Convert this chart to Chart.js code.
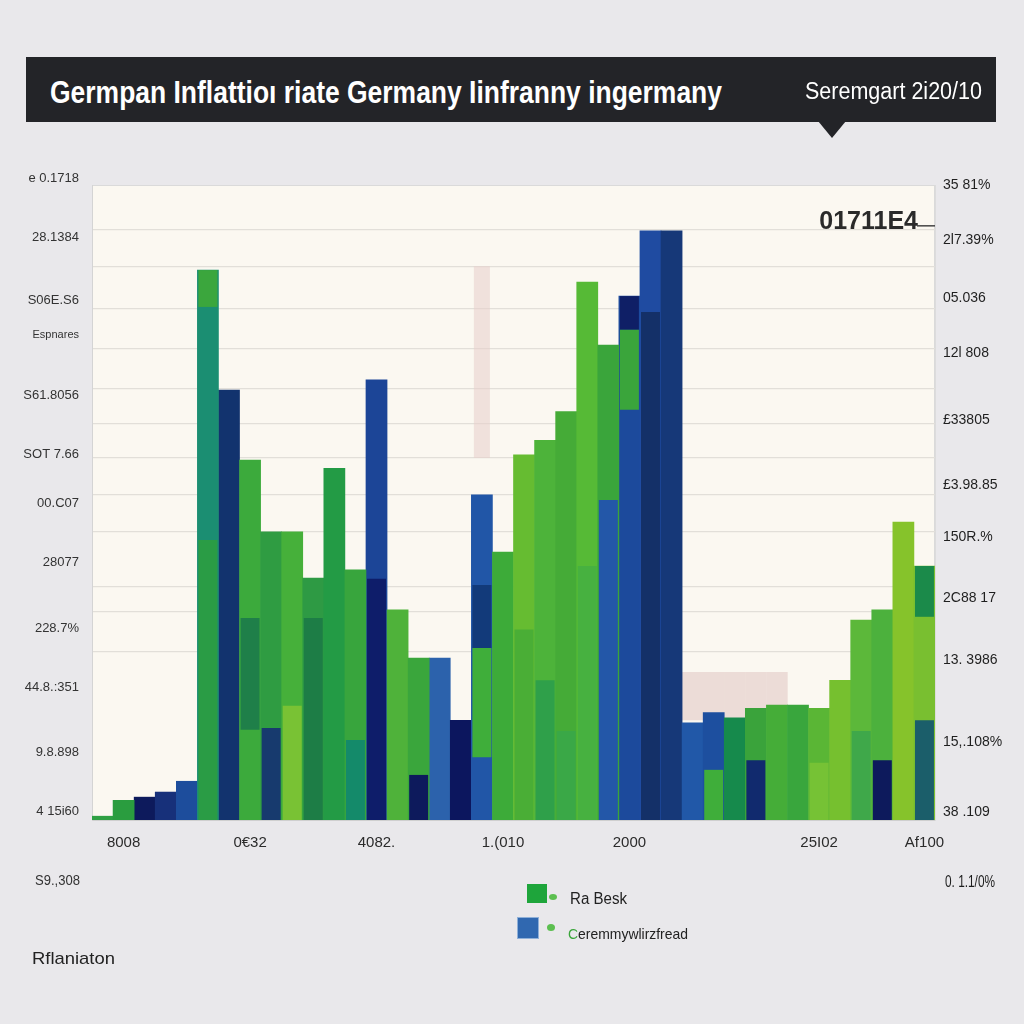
<!DOCTYPE html>
<html>
<head>
<meta charset="utf-8">
<script src="https://cdn.jsdelivr.net/npm/chart.js@4.4.1/dist/chart.umd.min.js"></script>
<style>
html,body{margin:0;padding:0;background:#e9e8eb;width:1024px;height:1024px;overflow:hidden;font-family:"Liberation Sans",Arial,sans-serif;}
#wrap{position:relative;width:1024px;height:1024px;}
canvas{position:absolute;left:0;top:0;}
.t{position:absolute;white-space:nowrap;transform-origin:0 50%;line-height:1;}
#bar{position:absolute;left:26px;top:57px;width:970px;height:65px;background:#232428;}
#tri{position:absolute;left:818px;top:121px;width:0;height:0;border-left:14px solid transparent;border-right:14px solid transparent;border-top:17px solid #232428;}
.sq{position:absolute;}
.dot{position:absolute;border-radius:50%;background:#5cbf50;}
</style>
</head>
<body>
<div id="wrap">
<canvas id="c" width="1024" height="1024"></canvas>
<div id="bar"></div><div id="tri"></div>
<div class="t fit" data-w="672" style="left:50px;top:77px;font-size:31px;font-weight:bold;color:#fff">Germpan Inflattioı riate Germany Iinfranny ingermany</div>
<div class="t fit" data-w="177" style="left:805px;top:80px;font-size:23px;color:#fff">Seremgart 2i20/10</div>

<div class="sq" style="left:527px;top:884px;width:20px;height:19px;background:#1ea53b"></div>
<div class="dot" style="left:549px;top:894px;width:8px;height:6px"></div>
<div class="t fit" data-w="57" style="left:570px;top:891px;font-size:16px;color:#222">Ra Besk</div>

<div class="sq" style="left:518px;top:918px;width:20px;height:20px;background:#3068b0;box-shadow:0 0 0 1px #8fb0d8"></div>
<div class="dot" style="left:547px;top:924px;width:8px;height:7px"></div>
<div class="t fit" data-w="120" style="left:568px;top:926px;font-size:15px;color:#222"><span style="color:#3aa53a">C</span>eremmywlirzfread</div>

<div class="t fit" data-w="83" style="left:32px;top:950px;font-size:17px;color:#222">Rflaniaton</div>
<div class="t fit" data-w="45" style="left:35px;top:873px;font-size:14px;color:#333">S9.,308</div>
<div class="t fit" data-w="50" style="left:945px;top:873px;font-size:17px;color:#1d1d1d">0. 1.1/0%</div>
</div>

<script>
// ---- data ----
const categories = ['', '8008', '', '', '', '', '', '0€32', '', '', '', '', '', '4082.', '', '', '', '', '', '1.(010',
                    '', '', '', '', '', '2000', '', '', '', '', '', '', '', '', '25I02', '', '', '', '', 'Af100'];
const greenValues = [0.6, 3.1, null, null, null, 86.6, null, 56.7, 45.4, 45.4, 38.1, 55.4, 39.4, null, 33.1, 25.5, null, null, null, 42.2,
                     57.5, 59.8, 64.3, 84.7, 74.8, null, null, null, null, null, 16.1, 17.6, 18.1, 18.1, 17.6, 22.0, 31.5, 33.1, 46.9, 40.0];
const blueValues  = [null, null, 3.6, 4.4, 6.1, null, 67.7, null, null, null, null, null, null, 69.3, null, null, 25.5, 15.7, 51.2, null,
                     null, null, null, null, null, 82.5, 92.8, 92.8, 15.3, 16.9, null, null, null, null, null, null, null, null, null, null];
// inner colour segments visible inside the bars [from, to]
const segmentValues = [null, null, null, null, null, [0, 44.1], null, [14.2, 31.8], [0, 14.5], [0, 18.0], [0, 31.8], null, [0, 12.6], [0, 38.0], null, [0, 7.1], null, null, [9.9, 27.1], null,
                       [0, 30.0], [0, 22.0], [0, 14.0], [0, 40.0], [0, 50.4], [64.6, 77.2], [0, 80.0], null, null, [0, 7.9], null, [0, 9.4], null, null, [0, 9.0], null, [0, 14.0], [0, 9.4], null, [0, 15.7]];
const topSegmentValues = [null, null, null, null, null, [80.8, 86.6], null, null, null, null, null, null, null, null, null, null, null, null, [27.1, 37.0], null,
                          null, null, null, null, null, [77.2, 82.5], null, null, null, null, null, null, null, null, null, null, null, null, null, [32.0, 40.0]];
const highlightNarrow = [null, null, null, null, null, null, null, null, null, null, null, null, null, null, null, null, null, null, [57.0, 87.2], null,
                         null, null, null, null, null, null, null, null, null, null, null, null, null, null, null, null, null, null, null, null];
const highlightWide = [null, null, null, null, null, null, null, null, null, null, null, null, null, null, null, null, null, null, null, null,
                       null, null, null, null, null, null, null, null, [15.7, 23.3], [15.7, 23.3], [15.7, 23.3], [15.7, 23.3], [15.7, 23.3], null, null, null, null, null, null, null];
const leftTickValues = [101.1, 91.7, 81.9, 76.4, 66.9, 57.5, 49.9, 40.5, 30.2, 20.8, 10.6, 1.3];
const leftTickLabels = ['e 0.1718', '28.1384', 'S06E.S6', 'Espnares', 'S61.8056', 'SOT 7.66', '00.C07', '28077', '228.7%', '44.8.:351', '9.8.898', '4 15i60'];
const rightTickValues = [100, 91.3, 82.2, 73.5, 63.0, 52.8, 44.6, 35.0, 25.2, 12.3, 1.3];
const rightTickLabels = ['35 81%', '2l7.39%', '05.036', '12l 808', '£33805', '£3.98.85', '150R.%', '2C88 17', '13. 3986', '15,.108%', '38 .109'];
const gridValues = [92.9, 87.2, 80.6, 74.3, 68.0, 62.4, 57.0, 51.3, 45.4, 36.7, 32.8, 26.5];
const annotationValue = 94.2;
const annotationText = '01711E4';

// ---- styles ----
const greenColors = ['#2fa044', '#2a9d3f', null, null, null, '#1b8e72', null, '#3caa3c', '#2f9c42', '#46b03a', '#2e9a44', '#239b45', '#38a53d', null, '#4fb23a', '#3aa63c', null, null, null, '#3dab39',
                     '#66bc31', '#4db33a', '#45ab37', '#56ba36', '#3aa53b', null, null, null, null, null, '#168a4c', '#3aa33b', '#45ad38', '#39a63d', '#5ab635', '#76c02f', '#5cb83a', '#4cb13d', '#86c32b', '#79bf30'];
const blueColors = [null, null, '#0d1a5c', '#17307a', '#1d4d9c', null, '#12336e', null, null, null, null, null, null, '#1c4597', null, null, '#2c62ac', '#0c165e', '#2156a7', null,
                    null, null, null, null, null, '#1c4a9c', '#1f4ba1', '#163878', '#2158a8', '#1d4f9f', null, null, null, null, null, null, null, null, null, null];
const segmentColors = [null, null, null, null, null, '#2a9c45', null, '#1f7f49', '#173a6e', '#79c234', '#1d7d46', null, '#148a6a', '#0e1d6a', null, '#0d1a5c', null, null, '#3fae3a', null,
                       '#4aae36', '#2fa04a', '#3aa847', '#47b140', '#2357a8', '#3aa53b', '#143068', null, null, '#3fae3a', null, '#112a6e', null, null, '#76c235', null, '#3fa84a', '#0d1a5c', null, '#1b5e6a'];
const topSegmentColors = [null, null, null, null, null, '#3ba63d', null, null, null, null, null, null, null, null, null, null, null, null, '#123a7a', null,
                          null, null, null, null, null, '#0f1f66', null, null, null, null, null, null, null, null, null, null, null, null, null, '#1b8a4a'];

const tickFont = {family: '"Liberation Sans", Arial, sans-serif', size: 13};

const chartPlugin = {
  id: 'decor',
  beforeDraw(chart) {
    const {ctx, chartArea: a} = chart;
    ctx.save();
    ctx.fillStyle = '#fbf8f1';
    ctx.fillRect(a.left, a.top, a.right - a.left, a.bottom - a.top);
    ctx.strokeStyle = '#dadada';
    ctx.lineWidth = 1;
    ctx.strokeRect(a.left + 0.5, a.top + 0.5, a.right - a.left - 1, a.bottom - a.top - 1);
    ctx.restore();
  },
  afterDatasetsDraw(chart) {
    const {ctx, chartArea: a, scales} = chart;
    const y = scales.y.getPixelForValue(annotationValue);
    ctx.save();
    ctx.font = 'bold 25px "Liberation Sans", Arial, sans-serif';
    ctx.fillStyle = '#2a2a2a';
    ctx.textAlign = 'right';
    ctx.textBaseline = 'middle';
    ctx.fillText(annotationText, a.right - 17, y);
    ctx.strokeStyle = '#444';
    ctx.lineWidth = 1.5;
    ctx.beginPath();
    ctx.moveTo(a.right - 18, y + 4);
    ctx.lineTo(a.right, y + 4);
    ctx.stroke();
    ctx.restore();
  }
};

const common = {yAxisID: 'y', grouped: false, categoryPercentage: 1, borderWidth: 0};

new Chart(document.getElementById('c'), {
  type: 'bar',
  data: {
    labels: categories,
    datasets: [
      {...common, label: 'inner', data: segmentValues, backgroundColor: segmentColors, order: 0, barPercentage: 0.9},
      {...common, label: 'innerTop', data: topSegmentValues, backgroundColor: topSegmentColors, order: 0, barPercentage: 0.9},
      {...common, label: 'Ra Besk', data: greenValues, backgroundColor: greenColors, order: 1, barPercentage: 1},
      {...common, label: 'Ceremmywlirzfread', data: blueValues, backgroundColor: blueColors, order: 1, barPercentage: 1},
      {...common, label: 'band', data: highlightNarrow, backgroundColor: 'rgba(232,205,203,0.55)', order: 5, barPercentage: 0.76},
      {...common, label: 'band2', data: highlightWide, backgroundColor: '#ecdcd7', order: 5, barPercentage: 1.02}
    ]
  },
  options: {
    responsive: false,
    animation: false,
    layout: {padding: {top: 185, bottom: 164, left: 0, right: 0}},
    plugins: {legend: {display: false}, tooltip: {enabled: false}},
    scales: {
      x: {
        grid: {display: false, drawTicks: false},
        border: {display: true, color: '#cfcfcf'},
        ticks: {autoSkip: false, maxRotation: 0, minRotation: 0, padding: 14, color: '#2b2b2b',
                font: {family: '"Liberation Sans", Arial, sans-serif', size: 15}},
        afterFit(a) { a.height = 40; }
      },
      y: {
        position: 'left', min: 0, max: 100,
        afterBuildTicks(a) { a.ticks = leftTickValues.map(v => ({value: v})); },
        grid: {display: false, drawTicks: false},
        border: {display: true, color: '#d4d4d4'},
        ticks: {autoSkip: false, padding: 13, color: '#333', font: (ctx) => ({...tickFont, size: ctx.index === 3 ? 11 : 13}),
                callback: (v, i) => leftTickLabels[i]},
        afterFit(a) { a.width = 92; }
      },
      yg: {
        position: 'left', min: 0, max: 100,
        afterBuildTicks(a) { a.ticks = gridValues.map(v => ({value: v})); },
        grid: {color: '#e2dfd9', lineWidth: 1.2, drawTicks: false},
        border: {display: false},
        ticks: {display: false},
        afterFit(a) { a.width = 0; }
      },
      y2: {
        position: 'right', min: 0, max: 100,
        afterBuildTicks(a) { a.ticks = rightTickValues.map(v => ({value: v})); },
        grid: {display: false, drawTicks: false},
        border: {display: true, color: '#dcdcdc'},
        ticks: {autoSkip: false, padding: 8, color: '#1f1f1f', font: {...tickFont, size: 14},
                callback: (v, i) => rightTickLabels[i]},
        afterFit(a) { a.width = 89; }
      }
    }
  },
  plugins: [chartPlugin]
});

// fit overlay texts to measured widths
document.querySelectorAll('.fit').forEach(el => {
  const w = el.getBoundingClientRect().width;
  const target = parseFloat(el.dataset.w);
  if (w > 0) el.style.transform = 'scaleX(' + (target / w) + ')';
});
</script>
</body>
</html>
